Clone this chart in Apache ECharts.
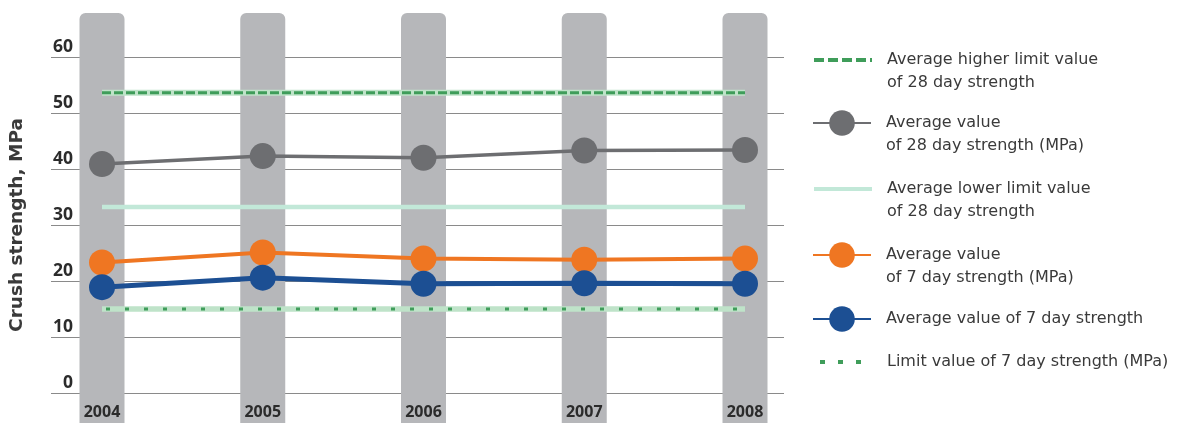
<!DOCTYPE html>
<html>
<head>
<meta charset="utf-8">
<script src="https://cdn.jsdelivr.net/npm/echarts@6/dist/echarts.min.js"></script>
<style>
  html, body { margin: 0; padding: 0; background: #ffffff; }
  #chart { width: 1185px; height: 423px; }
</style>
</head>
<body>
<div id="chart"></div>
<script>
// Crush strength of concrete, yearly averages 2004-2008
const years = ['2004', '2005', '2006', '2007', '2008'];
const higherLimit28 = [53.6, 53.6, 53.6, 53.6, 53.6];
const average28 = [40.9, 42.3, 42.0, 43.3, 43.4];
const lowerLimit28 = [33.2, 33.2, 33.2, 33.2, 33.2];
const average7 = [23.3, 25.1, 24.0, 23.8, 24.0];
const average7Strength = [18.9, 20.6, 19.5, 19.6, 19.5];
const limit7 = [15, 15, 15, 15, 15];
const yearColumns = [1, 1, 1, 1, 1];

const yAxisTitle = 'Crush strength, MPa';
const names = {
  higher28: 'Average higher limit value\nof 28 day strength',
  avg28: 'Average value\nof 28 day strength (MPa)',
  lower28: 'Average lower limit value\nof 28 day strength',
  avg7: 'Average value\nof 7 day strength (MPa)',
  avg7s: 'Average value of 7 day strength',
  limit7: 'Limit value of 7 day strength (MPa)'
};

const GREEN = '#3f9d5a';
const GREEN_GLOW = '#bfe3c9';
const MINT = '#c2e8d8';
const GREY = '#6d6e71';
const ORANGE = '#ef7622';
const BLUE = '#1c4f93';
const TEXT = '#3a3a3a';

const FONT = 'Open Sans';
const LEGEND_FONT = 'DejaVu Sans';
const LINE_H = 22.5;

// legend rows: vertical centre of each key symbol, optional key line style
const legendRows = [
  { key: 'higher28', cy: 60, h: 14, marker: false, line: { width: 4, type: [10, 4] } },
  { key: 'avg28', cy: 123, h: 32, marker: true },
  { key: 'lower28', cy: 189, h: 14, marker: false, line: { width: 4 } },
  { key: 'avg7', cy: 255, h: 32, marker: true },
  { key: 'avg7s', cy: 319, h: 32, marker: true },
  { key: 'limit7', cy: 362, h: 14, marker: false, line: { width: 4, type: [5, 13], dashOffset: -6 } }
];

const legends = legendRows.map(function (row) {
  const name = names[row.key];
  const twoLines = name.indexOf('\n') >= 0;
  const legend = {
    data: [name],
    left: 812,
    // text block is three lines tall, its middle line sits on the key symbol
    top: row.cy - 1.5 * LINE_H,
    padding: 0,
    itemWidth: 58,
    itemHeight: row.h,
    selectedMode: false,
    formatter: function (n) {
      return twoLines ? ' \n' + n : ' \n' + n + '\n ';
    },
    textStyle: {
      color: TEXT,
      fontFamily: LEGEND_FONT,
      fontSize: 16,
      lineHeight: LINE_H,
      padding: [0, 0, 0, 10]
    }
  };
  if (!row.marker) {
    legend.itemStyle = { opacity: 0 };
  }
  if (row.line) {
    legend.lineStyle = row.line;
  }
  return legend;
});

function circleSeries(name, data, color, width) {
  return {
    name: name,
    type: 'line',
    xAxisIndex: 2,
    yAxisIndex: 2,
    data: data,
    symbol: 'circle',
    symbolSize: 26,
    lineStyle: { color: color, width: width },
    itemStyle: { color: color },
    silent: true,
    animation: false,
    z: 3
  };
}

function flatSeries(name, data, lineStyle, z) {
  return {
    name: name,
    type: 'line',
    xAxisIndex: 2,
    yAxisIndex: 2,
    data: data,
    symbol: 'none',
    lineStyle: lineStyle,
    itemStyle: { color: lineStyle.color },
    silent: true,
    animation: false,
    z: z
  };
}

const option = {
  backgroundColor: '#ffffff',
  animation: false,
  legend: legends,
  grid: [
    // horizontal value grid lines
    { left: 49, right: 401, top: 57, bottom: 30 },
    // grey year columns
    { left: 102, right: 440, top: 13, bottom: 0 },
    // plotted series
    { left: 102, right: 440, top: 57, bottom: 30 }
  ],
  xAxis: [
    { gridIndex: 0, type: 'category', data: years, show: false },
    { gridIndex: 1, type: 'category', data: years, boundaryGap: false, show: false },
    {
      gridIndex: 2, type: 'category', data: years, boundaryGap: false,
      axisLine: { show: false }, axisTick: { show: false },
      axisLabel: {
        margin: 11, color: '#2b2b2b', fontFamily: FONT, fontWeight: 'bold', fontSize: 16
      }
    }
  ],
  yAxis: [
    {
      gridIndex: 0, type: 'value', min: 0, max: 60, interval: 10,
      name: yAxisTitle, nameLocation: 'middle', nameRotate: 90, nameGap: 24,
      nameTextStyle: {
        color: TEXT, fontFamily: LEGEND_FONT, fontWeight: 'bold', fontSize: 18.5
      },
      axisLine: { show: false }, axisTick: { show: false },
      splitLine: { show: true, lineStyle: { color: '#8a8a8a', width: 1 } },
      axisLabel: {
        inside: true, margin: 22, align: 'right', verticalAlign: 'bottom',
        padding: [0, 0, 1, 0],
        color: '#2b2b2b', fontFamily: FONT, fontWeight: 'bold', fontSize: 17.5
      }
    },
    { gridIndex: 1, type: 'value', min: 0, max: 1, show: false },
    { gridIndex: 2, type: 'value', min: 0, max: 60, interval: 10, show: false }
  ],
  series: [
    {
      type: 'bar',
      xAxisIndex: 1,
      yAxisIndex: 1,
      data: yearColumns,
      barWidth: 45,
      itemStyle: { color: '#b6b7ba', borderRadius: [6, 6, 0, 0] },
      silent: true,
      z: 0
    },
    // green glow under the dashed lines
    flatSeries('', higherLimit28, { color: GREEN_GLOW, width: 6 }, 1),
    flatSeries(names.higher28, higherLimit28, { color: GREEN, width: 3, type: [9, 3] }, 2),
    flatSeries(names.lower28, lowerLimit28, { color: MINT, width: 4.5 }, 2),
    flatSeries('', limit7, { color: GREEN_GLOW, width: 5.5 }, 1),
    flatSeries(names.limit7, limit7, { color: GREEN, width: 3, type: [4, 15], dashOffset: -4 }, 2),
    circleSeries(names.avg28, average28, GREY, 3.5),
    circleSeries(names.avg7, average7, ORANGE, 4),
    circleSeries(names.avg7s, average7Strength, BLUE, 5)
  ]
};

const chart = echarts.init(document.getElementById('chart'), null, { renderer: 'canvas' });
chart.setOption(option);
</script>
</body>
</html>
